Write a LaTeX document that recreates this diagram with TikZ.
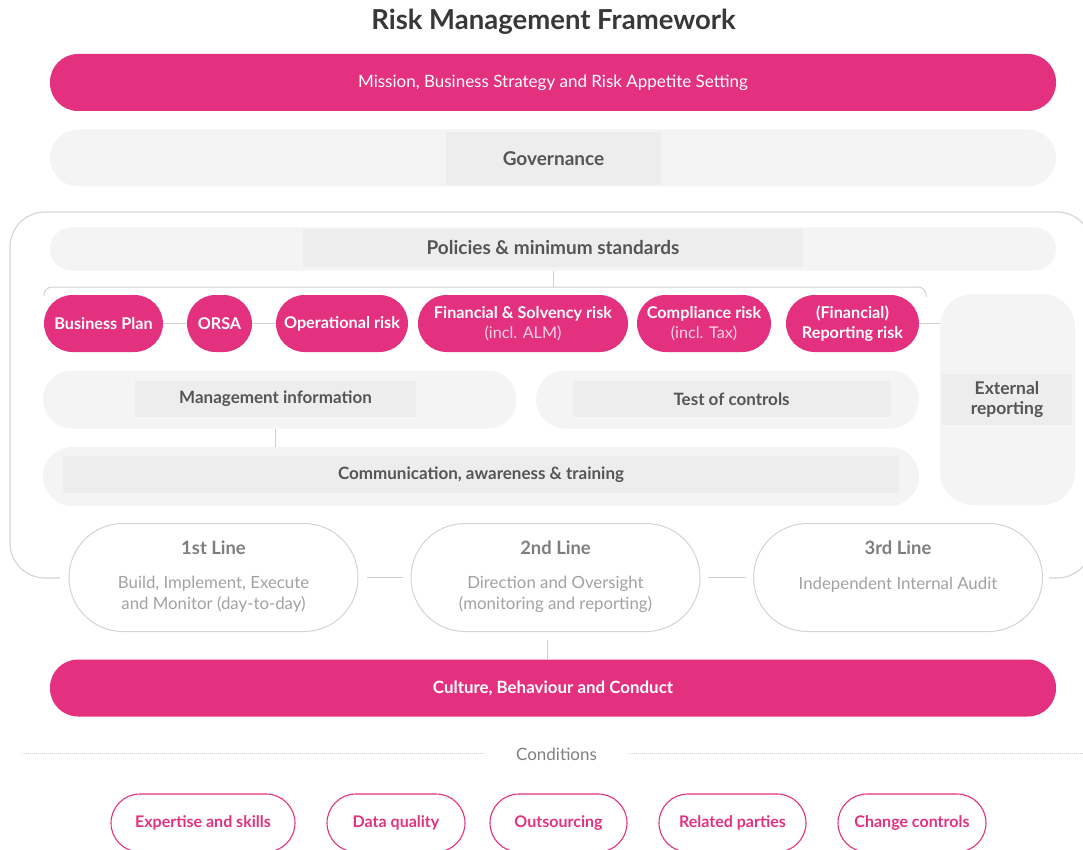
\documentclass[tikz,border=0pt]{standalone}
\usepackage{fontspec}
\setmainfont{Lato}
\newcommand\fsz[2]{\fontsize{#1}{#2}\selectfont}
\definecolor{rmpink}{HTML}{E4317F}
\definecolor{barg}{HTML}{F4F4F4}
\definecolor{hlg}{HTML}{EDEDED}
\definecolor{labg}{HTML}{555555}
\definecolor{lineg}{HTML}{D4D4D4}
\definecolor{conng}{HTML}{D0D0D0}
\definecolor{ltitle}{HTML}{7E7E7E}
\definecolor{ldesc}{HTML}{A2A2A2}
\definecolor{subw}{HTML}{FAD3E4}
\tikzset{
  base/.style={inner sep=0pt, outer sep=0pt, align=center},
  pinkbar/.style={base, fill=rmpink, rounded corners=28pt, minimum width=1006pt, minimum height=57pt, text=white},
  graybar/.style={base, fill=barg},
  hl/.style={base, fill=hlg, text=labg, font=\bfseries\fsz{17}{20}},
  riskpill/.style={base, fill=rmpink, rounded corners=28.5pt, minimum height=57pt, text=white, font=\bfseries\fsz{16.2}{20}},
  linebox/.style={base, draw=lineg, line width=1pt, fill=white, rounded corners=54pt, minimum width=289pt, minimum height=108pt},
  ltitlet/.style={base, text=ltitle, font=\bfseries\fsz{18.4}{20}},
  ldesct/.style={base, text=ldesc, font=\fsz{16.8}{21}},
  condpill/.style={base, draw=rmpink, line width=1.1pt, fill=white, rounded corners=29pt, minimum height=58pt, text=rmpink, font=\bfseries\fsz{16}{18}},
  conn/.style={draw=conng, line width=1pt},
  outl/.style={draw=lineg, line width=1.1pt},
  dotl/.style={draw=lineg, line width=1pt, dash pattern=on 1pt off 1pt},
}
\begin{document}
\begin{tikzpicture}[x=1pt,y=-1pt]
\useasboundingbox (0,0) rectangle (1083,850);
\clip (0,0) rectangle (1083,850);
\fill[white] (0,0) rectangle (1083,850);

% title
\node[base, text=black!78, font=\bfseries\fsz{27.5}{30}] (title) at (553.5,21.5) {Risk Management Framework};

% mission
\node[pinkbar, font=\fsz{17}{18}] (mission) at (553,82.5) {Mission, Business Strategy and Risk Appetite Setting};

% governance
\node[graybar, rounded corners=28.5pt, minimum width=1006pt, minimum height=57pt] (gov) at (553,158) {};
\node[hl, minimum width=215pt, minimum height=53pt, font=\bfseries\fsz{19}{20}] (govt) at (553.5,158.5) {Governance};

% outline
\draw[outl, rounded corners=35pt] (60,578) -| (10,212) -| (1092,578) -- (1049,578);

% policies
\node[graybar, rounded corners=21.5pt, minimum width=1006pt, minimum height=43pt] (pol) at (553,249) {};
\node[hl, minimum width=500pt, minimum height=37pt, font=\bfseries\fsz{19}{20}] (polt) at (553,248) {Policies \& minimum standards};

% bracket
\coordinate (bl) at (44,296);
\coordinate (br) at (926,297);
\coordinate (bt) at (553,287);
\draw[conn, rounded corners=8pt] (bl) |- (br |- bt) -- (br);
\draw[conn] (pol.south) -- (bt);

% risk row
\node[riskpill, minimum width=119pt] (bp) at (103.5,323.5) {Business Plan};
\node[riskpill, minimum width=65pt] (orsa) at (219.5,323.5) {ORSA};
\node[riskpill, minimum width=132pt] (op) at (342,323.5) {Operational risk};
\node[riskpill, minimum width=210pt] (fin) at (523,323.5) {Financial \& Solvency risk\\{\mdseries\color{subw}(incl. ALM)}};
\node[riskpill, minimum width=134pt] (comp) at (704,323.5) {Compliance risk\\{\mdseries\color{subw}(incl. Tax)}};
\node[riskpill, minimum width=133pt] (rep) at (852.5,323.5) {(Financial)\\Reporting risk};
\draw[conn] (bp) -- (orsa);
\draw[conn] (orsa) -- (op);

% external reporting
\node[graybar, rounded corners=33pt, minimum width=135pt, minimum height=211pt] (ext) at (1007.5,399.5) {};
\node[hl, minimum width=130pt, minimum height=51pt, font=\bfseries\fsz{17.5}{19.5}] (extt) at (1007,399.5) {External\\reporting};
\draw[conn] (rep.east) -- (rep.east -| ext.west);

% MI, test, comm
\node[graybar, rounded corners=29pt, minimum width=473.5pt, minimum height=58pt] (mi) at (279.75,399.5) {};
\node[hl, minimum width=281pt, minimum height=36pt] (mit) at (275.5,399) {Management information};
\node[graybar, rounded corners=29pt, minimum width=383pt, minimum height=58pt] (test) at (727.5,399.5) {};
\node[hl, minimum width=318pt, minimum height=36pt] (testt) at (731.6,399) {Test of controls};
\node[graybar, rounded corners=29.5pt, minimum width=876pt, minimum height=59pt] (comm) at (481,476.5) {};
\node[hl, minimum width=836pt, minimum height=37pt] (commt) at (481,474.5) {Communication, awareness \& training};
\draw[conn] (mi.south -| mit) -- (comm.north -| mit);

% lines
\node[linebox] (l1) at (213.5,577.5) {};
\node[linebox] (l2) at (555.5,577.5) {};
\node[linebox] (l3) at (898,577.5) {};
\node[ltitlet] (l1t) at (213.5,548) {1st Line};
\node[ldesct] (l1d) at (213.5,594.5) {Build, Implement, Execute\\and Monitor (day-to-day)};
\node[ltitlet] (l2t) at (555.5,548) {2nd Line};
\node[ldesct] (l2d) at (555.5,594.5) {Direction and Oversight\\(monitoring and reporting)};
\node[ltitlet] (l3t) at (898,548) {3rd Line};
\node[ldesct] (l3d) at (898,585) {Independent Internal Audit};
\draw[conn, shorten <=9pt, shorten >=8pt] (l1) -- (l2);
\draw[conn, shorten <=8pt, shorten >=8pt] (l2) -- (l3);

% culture
\node[pinkbar, font=\bfseries\fsz{16.9}{18}] (cult) at (553,688) {Culture, Behaviour and Conduct};
\coordinate (cx) at (547,0);
\draw[conn, shorten <=8pt] (l2.south -| cx) -- (cult.north -| cx);

% conditions
\node[base, text=black!50, font=\fsz{17}{18}] (cond) at (556.5,754.5) {Conditions};
\coordinate (cl) at (22,753);
\coordinate (cr) at (1083,753);
\draw[dotl] (cl) -- ([xshift=-31pt]cond.west |- cl);
\draw[dotl] ([xshift=31pt]cond.east |- cr) -- (cr);

\node[condpill, minimum width=184pt] (c1) at (203,823) {Expertise and skills};
\node[condpill, minimum width=138pt] (c2) at (396,823) {Data quality};
\node[condpill, minimum width=137pt] (c3) at (558.5,823) {Outsourcing};
\node[condpill, minimum width=147pt] (c4) at (732.5,823) {Related parties};
\node[condpill, minimum width=148pt] (c5) at (912,823) {Change controls};
\end{tikzpicture}
\end{document}
